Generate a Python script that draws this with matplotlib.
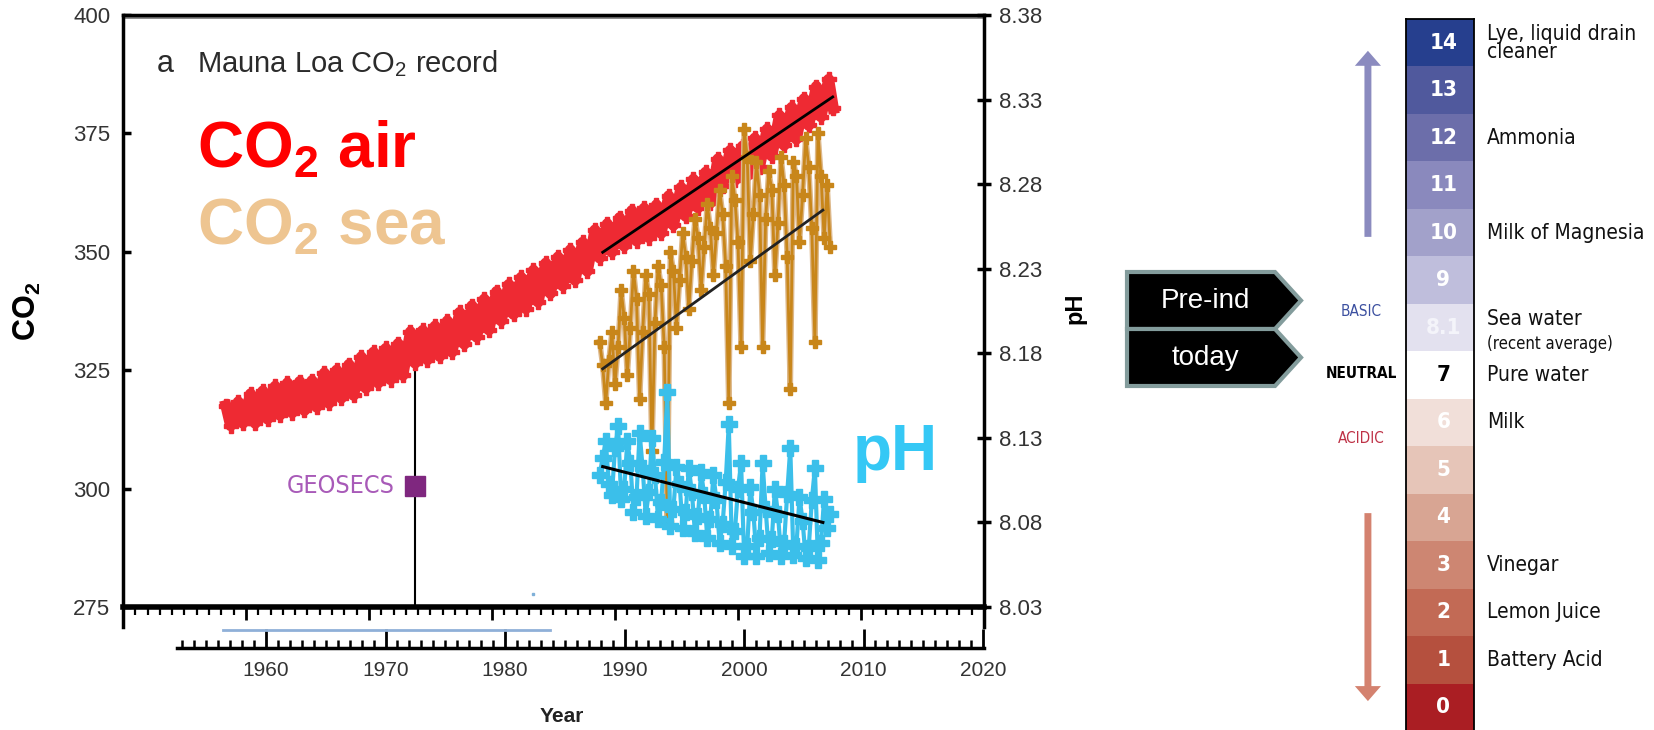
import matplotlib
matplotlib.use('Agg')
import matplotlib.pyplot as plt
from matplotlib import font_manager
from matplotlib.patches import Polygon
from matplotlib.ticker import MultipleLocator
import numpy as np

# ---------------- data ----------------
# Mauna Loa CO2 (ppm): seasonal peak (May) and low (Oct) per year
air_years = [1958, 1959, 1960, 1961, 1962, 1963, 1964, 1965, 1966, 1967,
             1968, 1969, 1970, 1971, 1972, 1973, 1974, 1975, 1976, 1977,
             1978, 1979, 1980, 1981, 1982, 1983, 1984, 1985, 1986, 1987,
             1988, 1989, 1990, 1991, 1992, 1993, 1994, 1995, 1996, 1997,
             1998, 1999, 2000, 2001, 2002, 2003, 2004, 2005, 2006, 2007]
air_peak = [317.5, 318.3, 320.0, 320.6, 321.6, 322.3, 322.6, 322.8, 324.4, 325.0,
            326.2, 327.8, 328.8, 329.6, 330.6, 333.1, 333.4, 334.3, 335.4, 337.2,
            338.6, 340.0, 341.6, 343.1, 344.6, 346.1, 347.6, 348.9, 350.4, 352.0,
            354.6, 355.9, 357.2, 358.7, 359.2, 359.9, 361.8, 363.6, 365.3, 366.8,
            369.6, 371.4, 372.3, 374.0, 375.9, 378.8, 380.5, 382.3, 384.9, 386.4]
air_low = [313.3, 313.8, 313.8, 314.7, 315.5, 316.0, 316.5, 317.2, 318.0, 319.1,
           319.7, 321.2, 322.3, 323.0, 323.9, 326.5, 327.2, 327.9, 328.8, 330.5,
           332.0, 333.5, 335.4, 336.8, 338.0, 339.4, 341.2, 342.8, 344.0, 345.9,
           348.7, 349.9, 351.2, 352.3, 353.0, 353.9, 355.6, 357.5, 359.3, 360.3,
           363.9, 365.1, 366.0, 367.9, 370.2, 372.5, 373.8, 376.7, 378.5, 380.3]
air_trend_years = [1989.0, 2007.7]
air_trend_co2 = [349.9, 382.7]

# Hawaii ocean time series: sea-water CO2 and pH
sea_years = [1988.75, 1989.00, 1989.25, 1989.50, 1989.75, 1990.00, 1990.25, 1990.50,
             1990.75, 1991.00, 1991.25, 1991.50, 1991.75, 1992.00, 1992.25, 1992.50,
             1992.75, 1993.00, 1993.25, 1993.50, 1993.75, 1994.00, 1994.25, 1994.50,
             1994.75, 1995.00, 1995.25, 1995.50, 1995.75, 1996.00, 1996.25, 1996.50,
             1996.75, 1997.00, 1997.25, 1997.50, 1997.75, 1998.00, 1998.25, 1998.50,
             1998.75, 1999.00, 1999.25, 1999.50, 1999.75, 2000.00, 2000.25, 2000.50,
             2000.75, 2001.00, 2001.25, 2001.50, 2001.75, 2002.00, 2002.25, 2002.50,
             2002.75, 2003.00, 2003.25, 2003.50, 2003.75, 2004.00, 2004.25, 2004.50,
             2004.75, 2005.00, 2005.25, 2005.50, 2005.75, 2006.00, 2006.25, 2006.50,
             2006.75, 2007.00, 2007.25, 2007.50]
sea_co2 = [331, 326, 318, 327, 333, 322, 330, 342,
           336, 324, 334, 346, 340, 319, 333, 345,
           341, 308, 335, 347, 343, 330, 293, 350,
           346, 334, 344, 354, 349, 338, 348, 357,
           353, 342, 351, 360, 355, 345, 354, 363,
           358, 347, 318, 366, 361, 352, 330, 376,
           370, 348, 358, 369, 362, 330, 357, 367,
           363, 345, 356, 370, 364, 349, 321, 369,
           366, 352, 362, 374, 368, 355, 331, 375,
           366, 353, 364, 351]
sea_ph = [8.108, 8.118, 8.128, 8.103, 8.096, 8.124, 8.137, 8.094,
          8.100, 8.128, 8.115, 8.086, 8.095, 8.133, 8.112, 8.084,
          8.098, 8.130, 8.108, 8.082, 8.092, 8.116, 8.157, 8.078,
          8.088, 8.113, 8.103, 8.077, 8.086, 8.112, 8.098, 8.074,
          8.084, 8.110, 8.096, 8.071, 8.082, 8.108, 8.093, 8.068,
          8.079, 8.104, 8.138, 8.066, 8.075, 8.100, 8.115, 8.060,
          8.066, 8.101, 8.086, 8.060, 8.071, 8.115, 8.088, 8.062,
          8.070, 8.100, 8.085, 8.060, 8.068, 8.097, 8.124, 8.061,
          8.066, 8.095, 8.081, 8.059, 8.065, 8.093, 8.112, 8.058,
          8.068, 8.094, 8.077, 8.085]
sea_trend_years = [1989.0, 2006.9]
sea_trend_co2 = [325.3, 358.8]
ph_trend_years = [1989.0, 2006.9]
ph_trend = [8.113, 8.080]

geosecs_year = 1973.7
geosecs_co2 = 300.6
geosecs_stem = [275, 326]

co2_ticks = [275, 300, 325, 350, 375, 400]
ph_ticks = [8.03, 8.08, 8.13, 8.18, 8.23, 8.28, 8.33, 8.38]
year_ticks = [1960, 1970, 1980, 1990, 2000, 2010, 2020]

# pH scale (bottom to top)
scale_labels = ['0', '1', '2', '3', '4', '5', '6', '7', '8.1', '9', '10', '11', '12', '13', '14']
scale_colors = ['#AA1E23', '#B5503E', '#C26A55', '#CD8672', '#D8A593', '#E6C5B8', '#F1DFD9',
                '#FFFFFF', '#E3E1EF', '#BFBEDC', '#A2A1CA', '#8A89BD', '#6C6EAA', '#50599D', '#263F8E']
scale_num_colors = ['white'] * 7 + ['black'] + ['#F4F4FA'] + ['white'] * 6
scale_examples = {14: 'Lye, liquid drain\ncleaner', 12: 'Ammonia', 10: 'Milk of Magnesia',
                  7: 'Pure water', 6: 'Milk', 3: 'Vinegar', 2: 'Lemon Juice', 1: 'Battery Acid'}
box_labels = ['Pre-ind', 'today']

# ---------------- style ----------------
plt.rcParams['font.family'] = ['Liberation Sans', 'DejaVu Sans']
plt.rcParams['mathtext.fontset'] = 'custom'
plt.rcParams['mathtext.rm'] = 'Liberation Sans'
plt.rcParams['mathtext.bf'] = 'Liberation Sans:bold'
plt.rcParams['mathtext.it'] = 'Liberation Sans:italic'

names = {f.name for f in font_manager.fontManager.ttflist}
if 'Liberation Sans Narrow' in names:
    narrow = {'family': 'Liberation Sans Narrow'}
else:
    narrow = {'family': 'DejaVu Sans', 'stretch': 'condensed'}

W, H = 1654, 730
fig = plt.figure(figsize=(W / 100, H / 100), dpi=100)

RED = '#EE2A33'
ORANGE = '#C8861A'
TAN = '#DDB88A'
CYAN = '#3BBFEA'
TICKC = '#333333'

# ---------------- main chart ----------------
ax = fig.add_axes([123 / W, (H - 607) / H, (984 - 123) / W, (607 - 15) / H])
ax.set_xlim(1950, 2020)
ax.set_ylim(275, 400)

t_air = np.ravel(np.column_stack([np.array(air_years) + 0.37, np.array(air_years) + 0.75]))
v_air = np.ravel(np.column_stack([air_peak, air_low]))
ax.plot(t_air, v_air, color=RED, lw=8, zorder=2)
ax.plot(t_air, v_air, ls='none', marker='P', ms=10, color=RED, zorder=2)

ax.plot(sea_years, sea_co2, color=TAN, lw=4, zorder=3)
ax.plot(sea_years, sea_co2, color=ORANGE, lw=2, marker='P', ms=9, zorder=3)

ax.plot(air_trend_years, air_trend_co2, color='black', lw=2, zorder=5)
ax.plot(sea_trend_years, sea_trend_co2, color='#222222', lw=2, zorder=5)

ax.plot([geosecs_year, geosecs_year], geosecs_stem, color='black', lw=1.5, zorder=1)
ax.plot(geosecs_year, geosecs_co2, marker='s', ms=15, color='#7F277F', zorder=4)
ax.text(geosecs_year - 1.6, geosecs_co2, 'GEOSECS', color='#A85AB8', fontsize=18,
        ha='right', va='center', **narrow)
ax.plot(1983.3, 277.8, marker='s', ms=2, color='#7FB0D8')

ax.yaxis.set_major_locator(plt.FixedLocator(co2_ticks))
ax.xaxis.set_major_locator(MultipleLocator(10))
ax.xaxis.set_minor_locator(MultipleLocator(1))
ax.tick_params(axis='x', which='major', direction='out', length=9, width=2, labelbottom=False)
ax.tick_params(axis='x', which='minor', direction='out', length=5.5, width=1.6)
ax.tick_params(axis='y', direction='in', length=6, width=2.5, labelsize=16,
               labelcolor=TICKC, pad=9)
for s in ['left', 'top']:
    ax.spines[s].set_linewidth(2.5)
ax.spines['bottom'].set_linewidth(4)
ax.spines['right'].set_visible(False)
ax.spines['left'].set_bounds(270.8, 400)
ax.axhline(399.5, color='#808080', lw=2)

ax.text(0.0395, 0.9037, 'a', transform=ax.transAxes, fontsize=22, color='#2B2B2B')
ax.text(0.086, 0.9037, r'Mauna Loa CO$_2$ record', transform=ax.transAxes,
        fontsize=21, color='#2B2B2B')
ax.text(0.086, 0.7416, r'$\mathbf{CO_2}$ air', transform=ax.transAxes, fontsize=46,
        fontweight='bold', color='#FF0000')
ax.text(0.086, 0.611, r'$\mathbf{CO_2}$ sea', transform=ax.transAxes, fontsize=46,
        fontweight='bold', color='#EEC591')

ax2 = ax.twinx()
ax2.set_ylim(8.03, 8.38)
ax2.plot(sea_years, sea_ph, color=CYAN, lw=3, marker='P', ms=12, zorder=3)
ax2.plot(ph_trend_years, ph_trend, color='black', lw=2.2, zorder=5)
ax2.set_yticks(ph_ticks)
ax2.set_yticklabels(['%.2f' % v for v in ph_ticks])
ax2.tick_params(axis='y', direction='inout', length=10, width=2.5, labelsize=16,
                labelcolor=TICKC, pad=6)
for s in ['left', 'top', 'bottom']:
    ax2.spines[s].set_visible(False)
ax2.spines['right'].set_linewidth(2.5)
ax2.spines['right'].set_bounds(8.018, 8.38)
ax2.text(0.848, 0.2314, 'pH', transform=ax.transAxes, fontsize=46,
         fontweight='bold', color='#35C8F5')

fig.text(27 / W, 1 - 311 / H, r'$\mathbf{CO_2}$', rotation=90, fontsize=22,
         ha='center', va='center')
fig.text(1075 / W, 1 - 308 / H, 'pH', rotation=90, fontsize=17, fontweight='bold',
         ha='center', va='center')

# lower year axis
axl = fig.add_axes([177 / W, (H - 648) / H, (984 - 177) / W, (648 - 607) / H])
axl.set_xlim(1952.55, 2020.08)
axl.set_ylim(0, 1)
axl.patch.set_visible(False)
for s in ['left', 'right', 'top']:
    axl.spines[s].set_visible(False)
axl.spines['bottom'].set_linewidth(2.5)
axl.set_yticks([])
axl.set_xticks(year_ticks)
axl.xaxis.set_minor_locator(MultipleLocator(1))
axl.tick_params(axis='x', which='major', direction='in', length=14, width=2,
                labelsize=15, labelcolor=TICKC, pad=9)
axl.tick_params(axis='x', which='minor', direction='in', length=6, width=1.8)
axl.axhline(0.44, xmin=(1956.4 - 1952.55) / 67.53, xmax=(1983.8 - 1952.55) / 67.53,
            color='#8FB0D8', lw=2)
fig.text(562 / W, 1 - 717 / H, 'Year', fontsize=15, fontweight='bold',
         ha='center', va='center', color='#222222')

# ---------------- pre-industrial / today tags ----------------
ov = fig.add_axes([0, 0, 1, 1], zorder=-1)
ov.set_xlim(0, W)
ov.set_ylim(H, 0)
ov.axis('off')
for i, lab in enumerate(box_labels):
    top = 272 + i * 57
    pts = [(1127, top), (1275, top), (1301, top + 28.5), (1275, top + 57), (1127, top + 57)]
    ov.add_patch(Polygon(pts, closed=True, facecolor='black', edgecolor='#839C9C', lw=3))
    ov.text(1205, top + 29, lab, color='white', fontsize=20, ha='center', va='center')

# ---------------- pH scale ----------------
axs = fig.add_axes([1406 / W, (H - 731) / H, 68 / W, 712 / H])
idx = np.arange(len(scale_labels))
axs.bar(0.5, 1, width=1, bottom=idx, color=scale_colors, align='center')
axs.set_xlim(0, 1)
axs.set_ylim(0, len(scale_labels))
axs.set_xticks([])
axs.set_yticks([])
axs.spines['bottom'].set_visible(False)
for s in ['left', 'right', 'top']:
    axs.spines[s].set_linewidth(1.3)
for i, lab in enumerate(scale_labels):
    axs.text(0.55, i + 0.5, lab, color=scale_num_colors[i], fontsize=16, fontweight='bold',
             ha='center', va='center', **narrow)
for i, lab in scale_examples.items():
    axs.text(1.19, i + 0.5, lab, fontsize=15, ha='left', va='center', color='#111111',
             linespacing=0.85, transform=axs.get_yaxis_transform(), **narrow)
axs.text(1.19, 8.68, 'Sea water', fontsize=15, ha='left', va='center', color='#111111',
         transform=axs.get_yaxis_transform(), **narrow)
axs.text(1.19, 8.15, '(recent average)', fontsize=12, ha='left', va='center', color='#111111',
         transform=axs.get_yaxis_transform(), **narrow)
axs.text(-0.66, 8.83, 'BASIC', fontsize=11, color='#3C50A0', ha='center', va='center',
         transform=axs.get_yaxis_transform(), **narrow)
axs.text(-0.66, 7.54, 'NEUTRAL', fontsize=11, fontweight='bold', color='black',
         ha='center', va='center', transform=axs.get_yaxis_transform(), **narrow)
axs.text(-0.66, 6.17, 'ACIDIC', fontsize=11, color='#BE3246', ha='center', va='center',
         transform=axs.get_yaxis_transform(), **narrow)
axs.annotate('', xy=(-0.56, 14.33), xytext=(-0.56, 10.41),
             xycoords=axs.get_yaxis_transform(), textcoords=axs.get_yaxis_transform(),
             arrowprops=dict(arrowstyle='simple,head_length=0.54,head_width=0.94,tail_width=0.25',
                             mutation_scale=20, color='#8B8BBF', lw=0, shrinkA=0, shrinkB=0))
axs.annotate('', xy=(-0.56, 0.63), xytext=(-0.56, 4.59),
             xycoords=axs.get_yaxis_transform(), textcoords=axs.get_yaxis_transform(),
             arrowprops=dict(arrowstyle='simple,head_length=0.54,head_width=0.94,tail_width=0.25',
                             mutation_scale=20, color='#D4826F', lw=0, shrinkA=0, shrinkB=0))

fig.savefig('out.png', dpi=100)
